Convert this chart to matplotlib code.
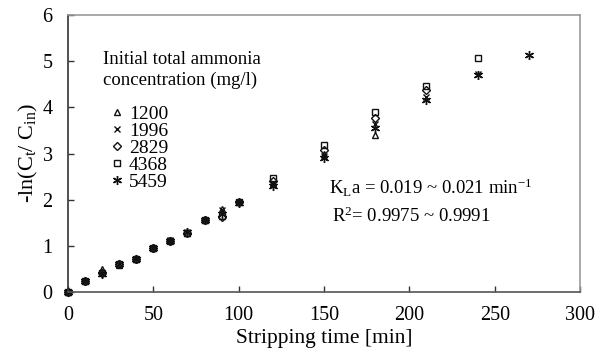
"""Stripping of ammonia: -ln(Ct/Cin) versus stripping time."""

import matplotlib
matplotlib.use('Agg')
from matplotlib import pyplot

# Stripping times [min] and -ln(Ct/Cin) for each initial concentration.
times = [0, 10, 20, 30, 40, 50, 60, 70, 80, 90, 100, 120, 150, 180, 210, 240, 270]
conc_labels = ['1200', '1996', '2829', '4368', '5459']
lnc_1200 = [0.00, 0.23, 0.50, 0.58, 0.72, 0.95, 1.12, 1.28, 1.56, 1.80, 1.95,
            2.35, 3.00, 3.40]
lnc_1996 = [0.00, 0.24, 0.42, 0.60, 0.72, 0.95, 1.12, 1.29, 1.56, 1.78, 1.95,
            2.33, 2.95, 3.65, 4.22, 4.72]
lnc_2829 = [0.00, 0.24, 0.42, 0.60, 0.72, 0.95, 1.10, 1.28, 1.55, 1.62, 1.95,
            2.40, 3.07, 3.76, 4.37]
lnc_4368 = [0.00, 0.24, 0.42, 0.60, 0.72, 0.96, 1.10, 1.28, 1.55, 1.65, 1.95,
            2.47, 3.18, 3.90, 4.46, 5.06]
lnc_5459 = [0.00, 0.24, 0.40, 0.60, 0.72, 0.96, 1.10, 1.29, 1.57, 1.68, 1.93,
            2.30, 2.90, 3.55, 4.16, 4.70, 5.14]
series = [lnc_1200, lnc_1996, lnc_2829, lnc_4368, lnc_5459]

pyplot.rcParams['font.family'] = 'Liberation Serif'
pyplot.rcParams['mathtext.fontset'] = 'custom'
pyplot.rcParams['mathtext.rm'] = 'Liberation Serif'
pyplot.rcParams['mathtext.it'] = 'Liberation Serif:italic'

markers = [
    dict(marker='^', markersize=5.0, markerfacecolor='none'),
    dict(marker='x', markersize=5.0),
    dict(marker='D', markersize=3.6, markerfacecolor='none'),
    dict(marker='s', markersize=4.6, markerfacecolor='none'),
    dict(marker=(6, 2, 0), markersize=6.5),
]

fig = pyplot.figure(figsize=(6.06, 3.54), dpi=100)
ax = fig.add_axes([0.1122, 0.1751, 0.845, 0.7825])

handles = []
for label, values, mk in zip(conc_labels, series, markers):
    h, = ax.plot(times[:len(values)], values, linestyle='none', color='#111111',
                 markeredgewidth=1.0, label=label, clip_on=False, **mk)
    handles.append(h)

ax.set_xlim(0, 300)
ax.set_ylim(0, 6)
ax.set_xticks(range(0, 301, 50))
ax.set_yticks(range(0, 7))
ax.tick_params(direction='in', length=4, width=1, labelsize=14.5,
               colors='#333333', labelcolor='black')
ax.tick_params(axis='x', pad=10)
ax.tick_params(axis='y', pad=11)
ax.spines['left'].set_color('#333333')
ax.spines['bottom'].set_color('#555555')
ax.spines['top'].set_color('#999999')
ax.spines['right'].set_color('#999999')
for s in ax.spines.values():
    s.set_linewidth(1.2)

ax.set_xlabel('Stripping time [min]', fontsize=15.5, labelpad=3)
ax.set_ylabel(r'-ln(C$_\mathrm{t}$/ C$_\mathrm{in}$)', fontsize=16, labelpad=2)

ax.text(0.068, 0.87, 'Initial total ammonia\nconcentration (mg/l)',
        transform=ax.transAxes, fontsize=13.5, va='top', ha='left',
        linespacing=1.25)
ax.legend(handles=handles, loc='upper left', bbox_to_anchor=(0.085, 0.675),
          frameon=False, fontsize=14, handlelength=0.6, handletextpad=0.3,
          labelspacing=-0.03, borderpad=0, borderaxespad=0)

ax.text(0.51, 0.374, r'K$_\mathrm{L}$a = 0.019 ~ 0.021 min$^{\mathrm{-1}}$',
        transform=ax.transAxes, fontsize=13.5, va='center', ha='left')
ax.text(0.515, 0.274, r'R$^\mathrm{2}$= 0.9975 ~ 0.9991',
        transform=ax.transAxes, fontsize=13.5, va='center', ha='left')

fig.savefig('out.png', dpi=100)
